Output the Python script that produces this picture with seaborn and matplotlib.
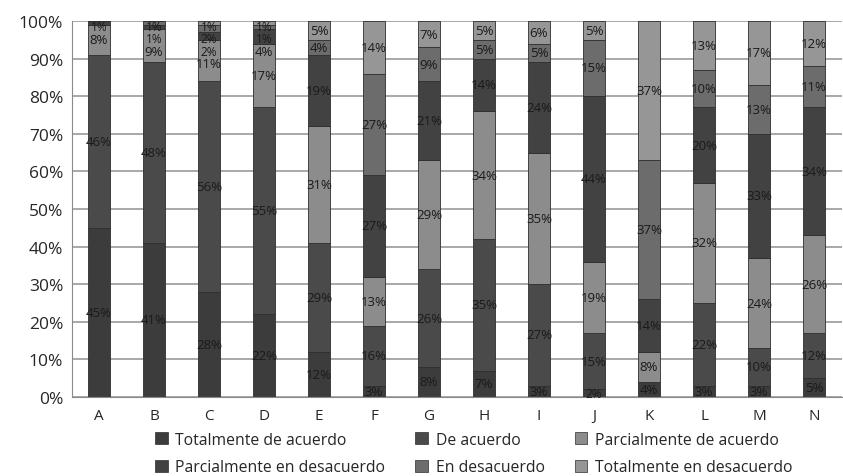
import numpy as np
import pandas as pd
import matplotlib
matplotlib.use("Agg")
import matplotlib.pyplot as plt
import seaborn as sns
from matplotlib.patches import Patch

# Data (percent per category, bottom to top)
categories = ["A", "B", "C", "D", "E", "F", "G", "H", "I", "J", "K", "L", "M", "N"]
series = ["Totalmente de acuerdo", "De acuerdo", "Parcialmente de acuerdo",
          "Parcialmente en desacuerdo", "En desacuerdo", "Totalmente en desacuerdo"]
totalmente_acuerdo = [45, 41, 28, 22, 12, 3, 8, 7, 3, 2, 4, 3, 3, 5]
de_acuerdo = [46, 48, 56, 55, 29, 16, 26, 35, 27, 15, 0, 22, 10, 12]
parcial_acuerdo = [8, 9, 11, 17, 31, 13, 29, 34, 35, 19, 8, 32, 24, 26]
parcial_desacuerdo = [1, 1, 2, 4, 19, 27, 21, 14, 24, 44, 14, 20, 33, 34]
en_desacuerdo = [0, 1, 2, 1, 4, 27, 9, 5, 5, 15, 37, 10, 13, 11]
totalmente_desacuerdo = [0, 0, 1, 1, 5, 14, 7, 5, 6, 5, 37, 13, 17, 12]

values = [totalmente_acuerdo, de_acuerdo, parcial_acuerdo,
          parcial_desacuerdo, en_desacuerdo, totalmente_desacuerdo]
colors = ["#3c3c3c", "#4a4a4a", "#8c8c8c", "#424242", "#6c6c6c", "#969696"]

sns.set_style("white")
plt.rcParams["font.family"] = ["Open Sans", "DejaVu Sans"]

fig = plt.figure(figsize=(8.43, 4.77), dpi=100)
ax = fig.add_axes([71.5 / 843, 1 - 398 / 477, 770 / 843, 376 / 477])

bottom = np.zeros(len(categories))
labels = [[] for _ in categories]
for name, vals, col in zip(series, values, colors):
    df = pd.DataFrame({"cat": categories, "val": vals})
    sns.barplot(data=df, x="cat", y="val", bottom=bottom, color=col,
                width=0.4, edgecolor="#2e2e2e", linewidth=0.6, ax=ax,
                saturation=1)
    for i, v in enumerate(vals):
        if v > 0:
            labels[i].append([bottom[i] + v / 2, v])
    bottom += np.array(vals)

# place labels, pushing small ones apart from the top down
gap = 3.3
for i, labs in enumerate(labels):
    limit = 98.6
    for lab in reversed(labs):
        y = min(lab[0], limit)
        lab[0] = y
        limit = y - gap
    for y, v in labs:
        ax.text(i, y, f"{v}%", ha="center", va="center",
                fontsize=9.5 if v > 2 else 8.5, color="#1a1a1a")

ax.set_xlim(-0.5, 13.5)
ax.set_ylim(0, 100)
ax.set_yticks(np.arange(0, 101, 10))
ax.set_yticklabels([f"{t}%" for t in range(0, 101, 10)], fontsize=12.5)
ax.tick_params(axis="x", labelsize=11, length=0, pad=8)
ax.tick_params(axis="y", length=0, pad=6)
ax.set_xlabel("")
ax.set_ylabel("")
ax.yaxis.grid(True, color="#9a9a9a", linewidth=1.2)
ax.set_axisbelow(True)
for s in ["top", "right"]:
    ax.spines[s].set_visible(False)
ax.spines["left"].set_color("#8a8a8a")
ax.spines["bottom"].set_color("#8a8a8a")

order = [0, 3, 1, 4, 2, 5]
handles = [Patch(facecolor=colors[i], edgecolor="#2e2e2e", linewidth=0.5, label=series[i]) for i in order]
fig.legend(handles=handles, loc="center", bbox_to_anchor=(0.562, 0.047), ncol=3,
           frameon=False, fontsize=11.3, handlelength=0.8, handleheight=0.8,
           columnspacing=1.9, labelspacing=0.75, handletextpad=0.5)

fig.savefig("out.png", dpi=100)
